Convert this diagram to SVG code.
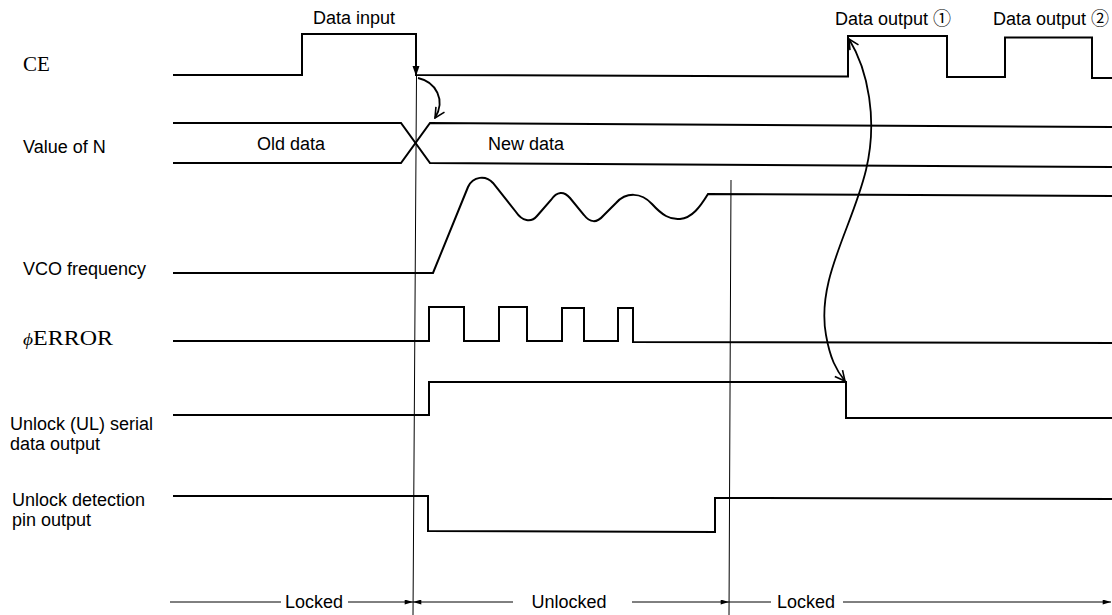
<svg xmlns="http://www.w3.org/2000/svg" width="1112" height="615" viewBox="0 0 1112 615">
<style>
.bg{fill:#fff}
.sig{fill:none;stroke:#000;stroke-width:2;stroke-linejoin:miter}
.thin{fill:none;stroke:#000;stroke-width:1}
.arc{fill:none;stroke:#000;stroke-width:1.8}
.t{font-family:"Liberation Sans",Arial,"Noto Sans CJK JP",sans-serif;font-size:18px;fill:#000}
.s{font-family:"Liberation Serif","Times New Roman",serif;font-size:21px;fill:#000}
</style>
<defs>
<marker id="open" viewBox="0 0 12 12" refX="11" refY="6" markerWidth="12" markerHeight="12" markerUnits="userSpaceOnUse" orient="auto-start-reverse">
<path d="M1,1 L11,6 L1,11" fill="none" stroke="#000" stroke-width="1.6"/>
</marker>
<marker id="fill" viewBox="0 0 10 6" refX="10" refY="3" markerWidth="9" markerHeight="5" markerUnits="userSpaceOnUse" orient="auto-start-reverse">
<path d="M0,0 L10,3 L0,6z" fill="#000"/>
</marker>
</defs>
<rect class="bg" x="0" y="0" width="1112" height="615"/>

<g id="labels">
<text class="t" x="313" y="24">Data input</text>
<text class="t" x="835" y="25">Data output ①</text>
<text class="t" x="993" y="25">Data output ②</text>
<text class="s" x="23" y="71">CE</text>
<text class="t" x="23" y="153">Value of N</text>
<text class="t" x="23" y="275">VCO frequency</text>
<text class="s" x="23" y="345" textLength="90" lengthAdjust="spacingAndGlyphs"><tspan font-style="italic" font-size="17">ϕ</tspan>ERROR</text>
<text class="t" x="10" y="430">Unlock (UL) serial</text>
<text class="t" x="10" y="450">data output</text>
<text class="t" x="12" y="506">Unlock detection</text>
<text class="t" x="12" y="526">pin output</text>
</g>

<g id="sig-ce">
<path class="sig" d="M173,75 L302,75 L302,34 L416,34 L416,75 L848,76.5 L848,36 L947,36 L947,77 L1005,77 L1005,37.5 L1092,37.5 L1092,78 L1112,78"/>
<polygon points="412.5,66 419.5,66 416,76" fill="#000"/>
</g>

<g id="sig-n">
<path class="sig" d="M173,123 L401,123 L430,163 L1112,167"/>
<path class="sig" d="M173,163 L401,163 L430,123 L1112,127"/>
<text class="t" x="257" y="150">Old data</text>
<text class="t" x="488" y="150">New data</text>
</g>

<g id="sig-vco">
<path class="sig" d="M173,273 L433,273 L468,187 C473,176 486,175 493,183 L516,212 C522,221 531,223 537,216 L551,200 C557,191 564,191 570,198 L584,215 C590,223 597,223 603,216 L616,203 C626,192 641,192 652,204 C662,215 670,220 680,219 C692,218 700,207 708,194 L1112,196"/>
</g>

<g id="sig-error">
<path class="sig" d="M173,341 L429,341 L429,307 L464,307 L464,341 L499,341 L499,307 L527,307 L527,341 L562,341 L562,308 L584,308 L584,341 L618,341 L618,308 L633,308 L633,342 L1112,343"/>
</g>

<g id="sig-ul">
<path class="sig" d="M173,415 L429,415 L429,382 L846,382 L846,418 L1112,418"/>
</g>

<g id="sig-det">
<path class="sig" d="M173,496 L428,496 L428,531 L715,532 L715,498 L1112,499"/>
</g>

<g id="connectors">
<line class="thin" x1="416.5" y1="75" x2="413" y2="615"/>
<line class="thin" x1="731" y1="180" x2="729" y2="615"/>
<path class="arc" d="M418,78 C436,82 446,100 435,118" marker-end="url(#open)"/>
<path class="arc" d="M849,39 C868,70 878,120 866,170 C852,228 816,280 826,335 C830,358 836,370 845,381" marker-start="url(#open)" marker-end="url(#open)"/>
<line class="thin" x1="170" y1="602" x2="281" y2="602"/>
<line class="thin" x1="348" y1="602" x2="413" y2="602" marker-end="url(#fill)"/>
<line class="thin" x1="413" y1="602" x2="513" y2="602" marker-start="url(#fill)"/>
<line class="thin" x1="632" y1="602" x2="729" y2="602" marker-end="url(#fill)"/>
<line class="thin" x1="729" y1="602" x2="771" y2="602"/>
<line class="thin" x1="843" y1="602" x2="1111" y2="602" marker-end="url(#fill)"/>
<text class="t" x="314" y="608" text-anchor="middle">Locked</text>
<text class="t" x="569" y="608" text-anchor="middle">Unlocked</text>
<text class="t" x="806" y="608" text-anchor="middle">Locked</text>
</g>
</svg>
